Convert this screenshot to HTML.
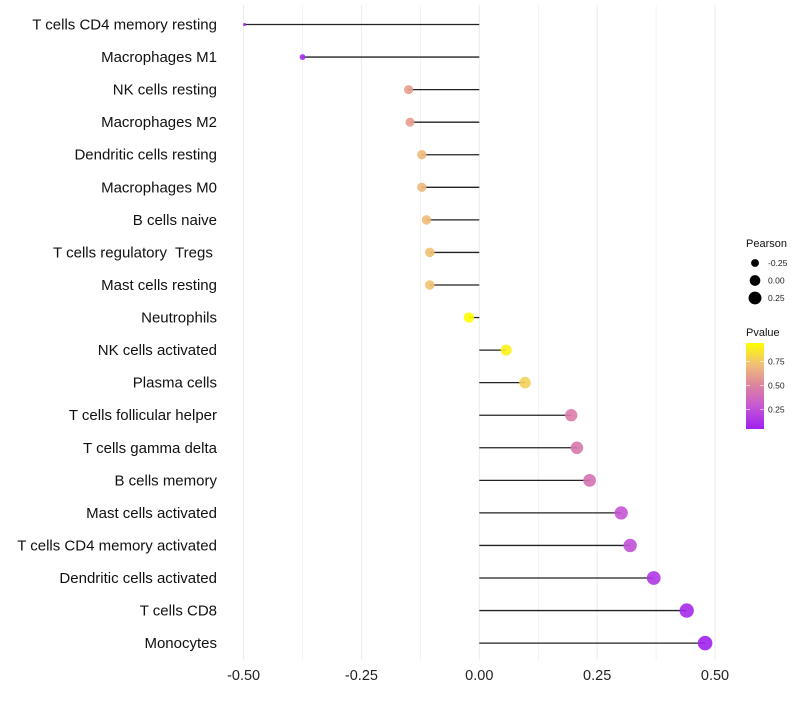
<!DOCTYPE html>
<html><head><meta charset="utf-8"><style>
body{margin:0;background:#fff;font-family:"Liberation Sans",sans-serif}
svg text{font-family:"Liberation Sans",sans-serif;white-space:pre}
</style></head><body>
<svg id="chart" width="800" height="700" xmlns="http://www.w3.org/2000/svg"></svg>
<script>
const categories=["T cells CD4 memory resting","Macrophages M1","NK cells resting","Macrophages M2","Dendritic cells resting","Macrophages M0","B cells naive","T cells regulatory  Tregs ","Mast cells resting","Neutrophils","NK cells activated","Plasma cells","T cells follicular helper","T cells gamma delta","B cells memory","Mast cells activated","T cells CD4 memory activated","Dendritic cells activated","T cells CD8","Monocytes"];
const pearson=[-0.498,-0.375,-0.150,-0.147,-0.122,-0.122,-0.112,-0.105,-0.105,-0.022,0.057,0.097,0.195,0.207,0.234,0.301,0.320,0.370,0.440,0.479];
const pvalue=[0.05,0.10,0.60,0.60,0.70,0.70,0.72,0.73,0.73,0.95,0.90,0.78,0.47,0.45,0.42,0.28,0.26,0.15,0.09,0.06];
const xTicks=[-0.5,-0.25,0,0.25,0.5];
const xTickLabels=["-0.50","-0.25","0.00","0.25","0.50"];
const sizeLegend=[-0.25,0,0.25];
const colorTicks=[0.25,0.5,0.75];

const svg=document.getElementById('chart');
const NS='http://www.w3.org/2000/svg';
function mk(t,a,p){const e=document.createElementNS(NS,t);for(const k in a)e.setAttribute(k,a[k]);(p||svg).appendChild(e);return e;}
const x=v=>479.3+v*471.4;
const y=i=>24.5+i*32.56;
const rad=p=>Math.sqrt(Math.max(2.25,2.25+52*(p+0.5)));
const stops=[[0.05,[160,32,240]],[0.3,[200,90,210]],[0.5,[220,130,160]],[0.72,[240,190,120]],[0.95,[255,255,0]]];
function col(p){if(p<=stops[0][0])return `rgb(${stops[0][1]})`;for(let i=1;i<stops.length;i++){if(p<=stops[i][0]){const a=stops[i-1],b=stops[i],t=(p-a[0])/(b[0]-a[0]);return `rgb(${a[1].map((c,j)=>Math.round(c+(b[1][j]-c)*t))})`;}}return 'rgb(255,255,0)';}

for(let g=-0.5;g<=0.5001;g+=0.125){const l=mk('line',{x1:x(g),x2:x(g),y1:5,y2:660,stroke:'#ebebeb','stroke-width':Math.abs(g*4-Math.round(g*4))<1e-6?1:0.6});

}
xTicks.forEach((v,i)=>{const t=mk('text',{x:x(v),y:680,'font-size':14.5,'text-anchor':'middle',fill:'#222'});t.textContent=xTickLabels[i];

});
categories.forEach((c,i)=>{
const t=mk('text',{x:217,y:y(i)+5,'font-size':15,'text-anchor':'end',fill:'#111'});t.textContent=c;


const ln=mk('line',{x1:x(0),x2:x(pearson[i]),y1:y(i),y2:y(i),stroke:'#222','stroke-width':1.3});


const d=mk('circle',{cx:x(pearson[i]),cy:y(i),r:rad(pearson[i]),fill:col(pvalue[i]),'fill-opacity':0.9});


});
const lt=mk('text',{x:746,y:247,'font-size':11,fill:'#111'});lt.textContent='Pearson';


sizeLegend.forEach((v,i)=>{const cy=263+i*17.5;
const c=mk('circle',{cx:755,cy:cy,r:rad(v),fill:'#000'});


const t=mk('text',{x:768,y:cy+3,'font-size':8.5,fill:'#222'});t.textContent=['-0.25','0.00','0.25'][i];

});
const pt=mk('text',{x:746,y:336,'font-size':11,fill:'#111'});pt.textContent='Pvalue';


const defs=mk('defs',{});const lg=mk('linearGradient',{id:'gr',x1:0,y1:1,x2:0,y2:0},defs);
stops.forEach(s=>mk('stop',{offset:((s[0]-0.05)/0.9),'stop-color':`rgb(${s[1]})`},lg));
const bar=mk('rect',{x:746,y:343,width:18,height:86,fill:'url(#gr)'});


colorTicks.forEach(v=>{const yy=428-(v-0.055)*96;
mk('line',{x1:746,x2:750,y1:yy,y2:yy,stroke:'#fff','stroke-width':0.6});mk('line',{x1:760,x2:764,y1:yy,y2:yy,stroke:'#fff','stroke-width':0.6});
const t=mk('text',{x:768,y:yy+3,'font-size':8.5,fill:'#222'});t.textContent=v.toFixed(2);

});
</script>
</body></html>
